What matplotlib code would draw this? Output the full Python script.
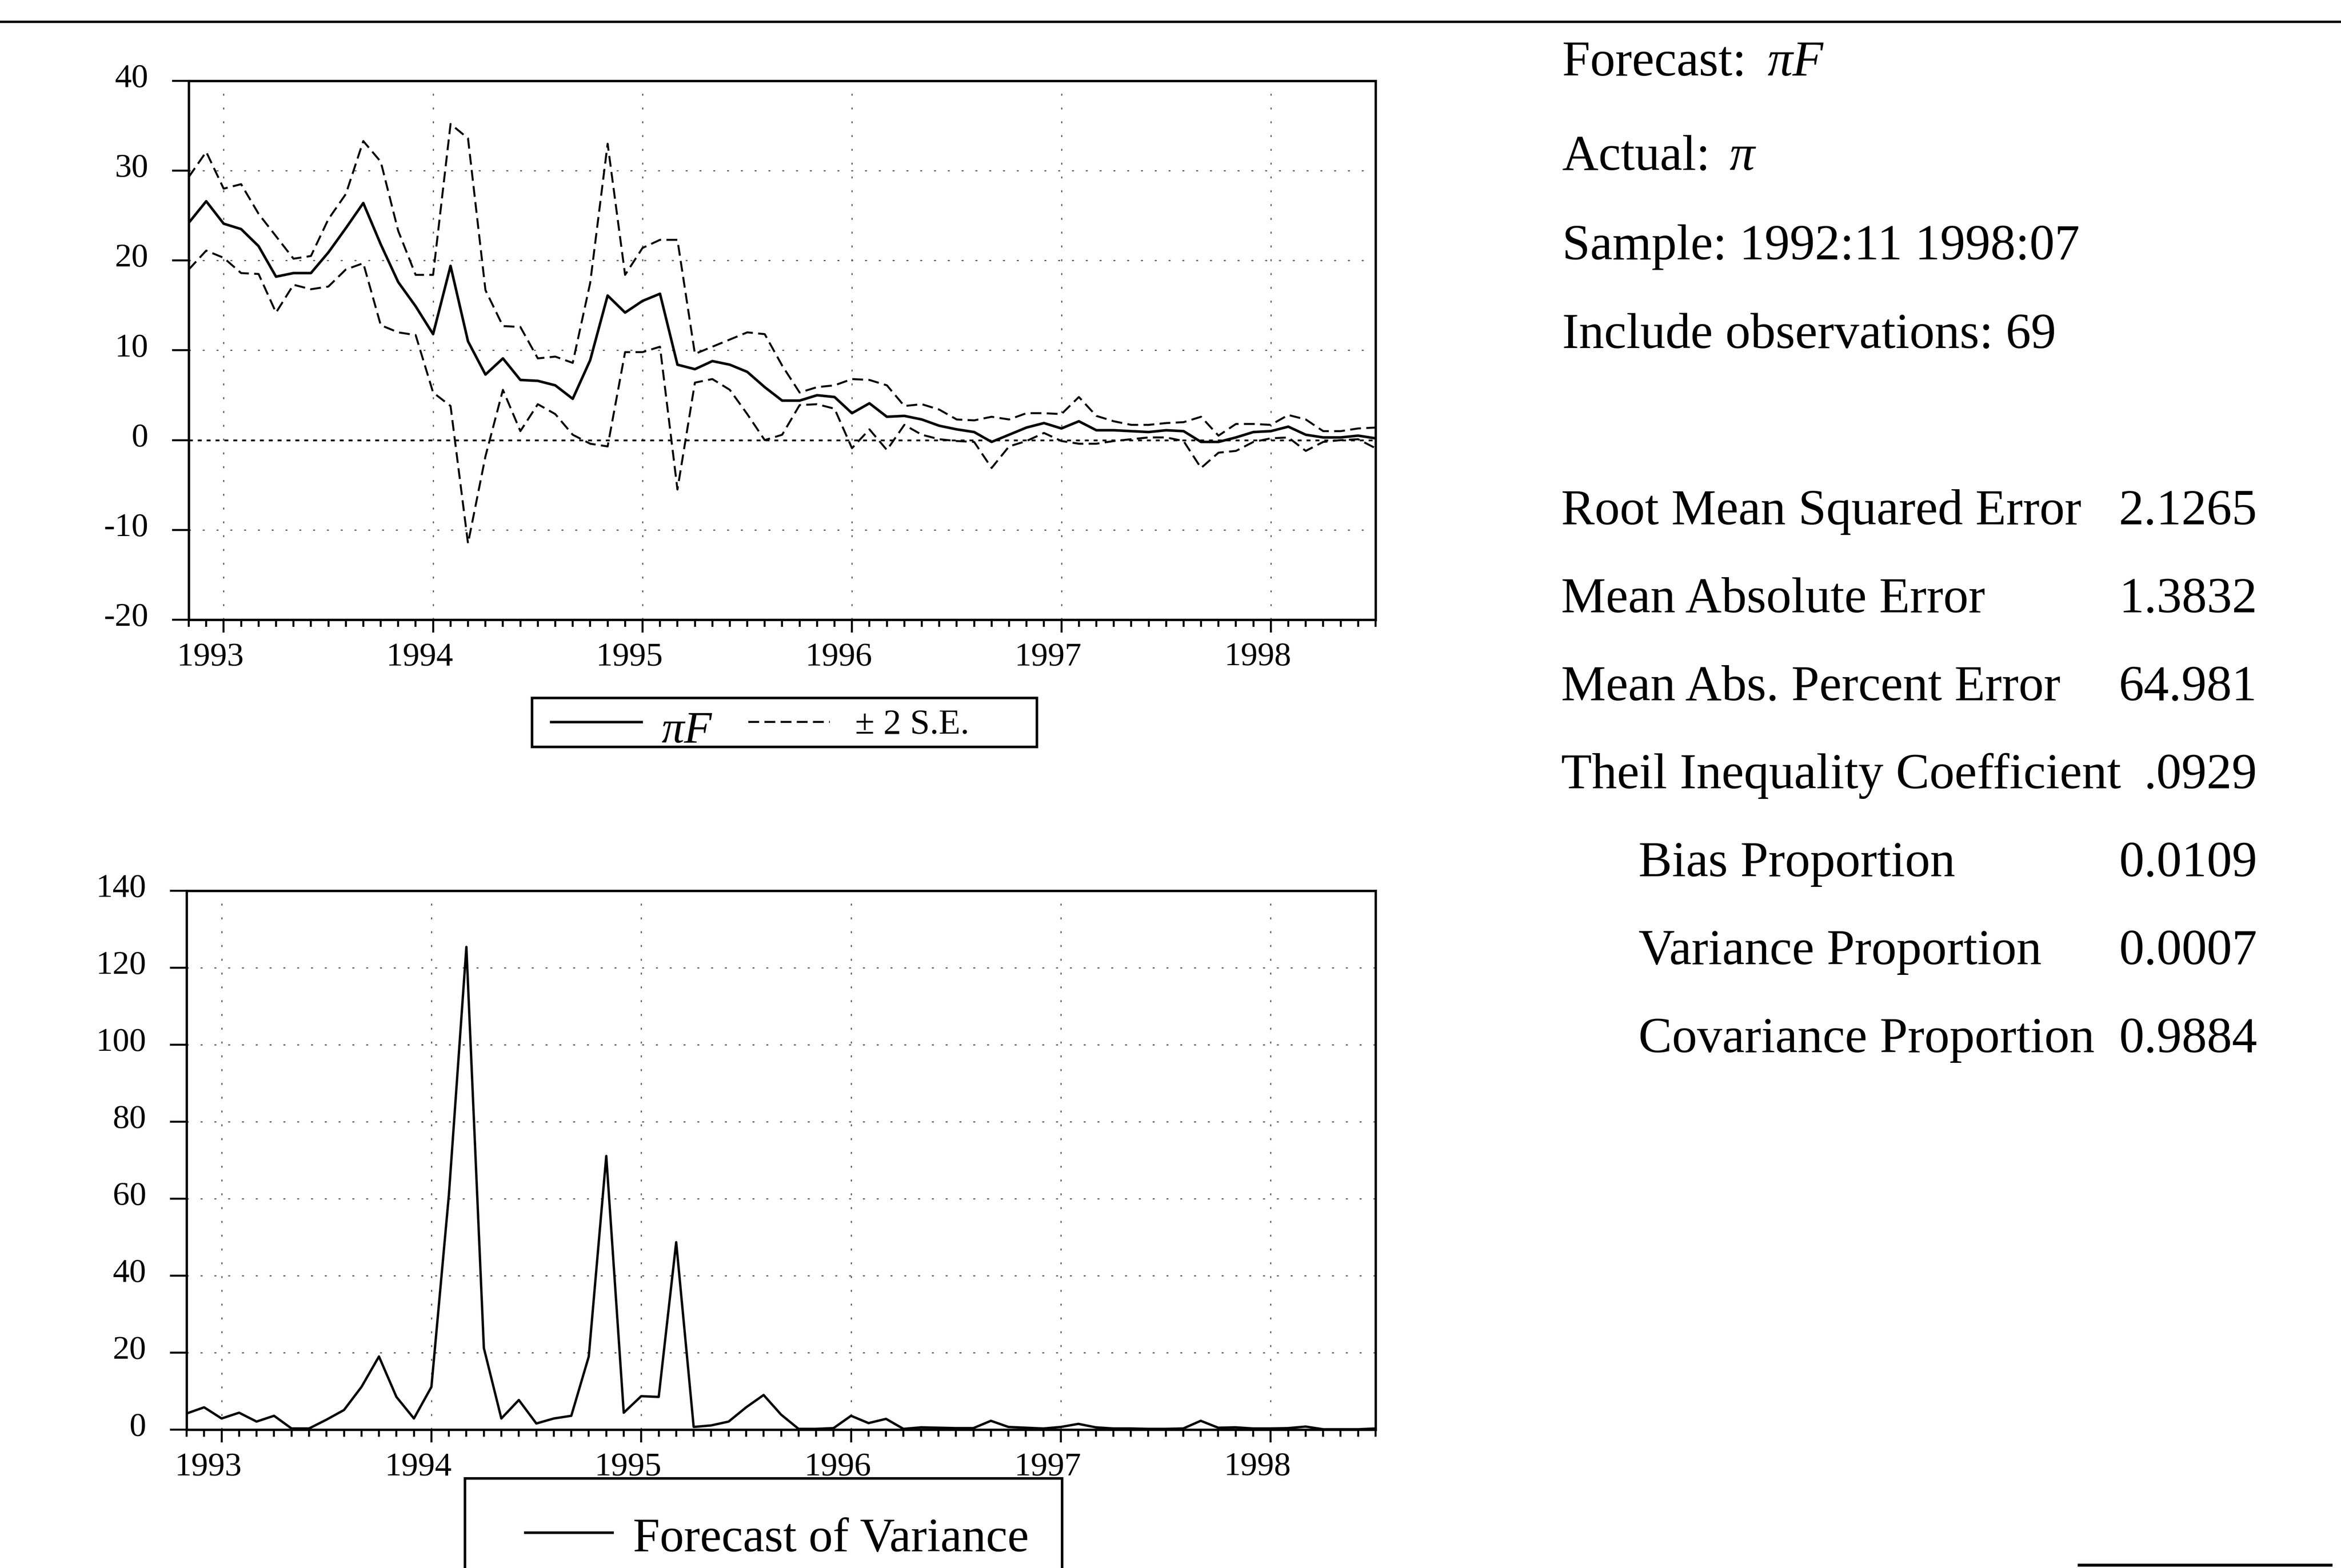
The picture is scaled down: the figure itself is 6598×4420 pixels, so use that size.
import numpy as np
import pandas as pd
import matplotlib
matplotlib.use('Agg')
import matplotlib.pyplot as plt
from matplotlib.lines import Line2D
from matplotlib.patches import Rectangle
from matplotlib.transforms import ScaledTranslation

plt.rcParams['font.family'] = ['Liberation Serif', 'DejaVu Serif']
plt.rcParams['axes.unicode_minus'] = False
plt.rcParams['lines.scale_dashes'] = False

# monthly sample 1992:11 - 1998:07
months = pd.period_range('1992-11', '1998-07', freq='M')

forecast = [24.2, 26.6, 24.1, 23.5, 21.6, 18.2, 18.6, 18.6, 20.9, 23.6,
            26.4, 21.8, 17.6, 14.9, 11.8, 19.4, 11.0, 7.3, 9.1, 6.7,
            6.6, 6.1, 4.6, 8.9, 16.1, 14.2, 15.5, 16.3, 8.4, 7.9,
            8.8, 8.4, 7.6, 5.9, 4.4, 4.4, 5.0, 4.8, 3.0, 4.1,
            2.6, 2.7, 2.3, 1.6, 1.2, 0.9, -0.2, 0.6, 1.4, 1.9,
            1.3, 2.1, 1.1, 1.1, 1.0, 0.9, 1.1, 1.0, -0.2, -0.2,
            0.3, 0.9, 1.0, 1.5, 0.6, 0.3, 0.3, 0.5, 0.2]

upper = [29.3, 32.1, 28.0, 28.5, 25.2, 22.7, 20.2, 20.5, 24.6, 27.4,
         33.3, 31.0, 23.3, 18.4, 18.4, 35.2, 33.6, 16.7, 12.7, 12.6,
         9.1, 9.3, 8.6, 17.5, 33.0, 18.4, 21.4, 22.3, 22.3, 9.6,
         10.4, 11.2, 12.0, 11.8, 8.3, 5.3, 5.9, 6.1, 6.8, 6.7,
         6.1, 3.8, 4.0, 3.4, 2.3, 2.2, 2.6, 2.3, 3.0, 3.0,
         2.9, 4.8, 2.7, 2.1, 1.7, 1.7, 1.9, 2.0, 2.6, 0.5,
         1.8, 1.8, 1.7, 2.8, 2.3, 1.0, 1.0, 1.3, 1.4]

lower = [19.0, 21.1, 20.3, 18.6, 18.5, 14.2, 17.3, 16.8, 17.1, 19.0,
         19.7, 12.8, 12.0, 11.7, 5.3, 3.8, -11.5, -1.8, 5.6, 1.0,
         4.0, 2.9, 0.6, -0.4, -0.7, 9.8, 9.8, 10.4, -5.5, 6.4,
         6.8, 5.6, 2.9, 0.0, 0.6, 3.9, 4.0, 3.5, -0.9, 1.2,
         -1.1, 1.7, 0.6, 0.1, -0.1, -0.2, -3.1, -0.7, -0.1, 0.8,
         -0.1, -0.4, -0.4, -0.1, 0.1, 0.3, 0.3, -0.1, -3.1, -1.4,
         -1.2, -0.2, 0.2, 0.3, -1.2, -0.2, 0.0, 0.1, -0.9]

variance = [4.2, 5.8, 2.9, 4.4, 2.1, 3.6, 0.3, 0.3, 2.6, 5.1,
            11.1, 19.0, 8.5, 2.9, 11.1, 61.0, 125.4, 21.2, 2.9, 7.7,
            1.6, 2.9, 3.6, 19.0, 71.1, 4.4, 8.7, 8.5, 48.7, 0.7,
            1.1, 2.1, 5.8, 9.0, 3.9, 0.2, 0.2, 0.4, 3.6, 1.7,
            2.8, 0.2, 0.6, 0.5, 0.4, 0.4, 2.3, 0.7, 0.5, 0.3,
            0.7, 1.5, 0.6, 0.3, 0.3, 0.2, 0.2, 0.3, 2.3, 0.5,
            0.6, 0.3, 0.3, 0.4, 0.8, 0.1, 0.1, 0.1, 0.3]

top_yticks = [-20, -10, 0, 10, 20, 30, 40]
bot_yticks = [0, 20, 40, 60, 80, 100, 120, 140]

info_lines = ['Sample: 1992:11 1998:07', 'Include observations: 69']
stat_names = ['Root Mean Squared Error', 'Mean Absolute Error',
              'Mean Abs. Percent Error', 'Theil Inequality Coefficient',
              'Bias Proportion', 'Variance Proportion', 'Covariance Proportion']
stat_values = ['2.1265', '1.3832', '64.981', '.0929', '0.0109', '0.0007', '0.9884']
stat_indent = [False, False, False, False, True, True, True]

x = np.arange(len(months))
year_pos = [i for i, m in enumerate(months) if m.month == 1]
year_labels = [str(months[i].year) for i in year_pos]

W, H, DPI = 6599, 4420, 400
fig = plt.figure(figsize=(W / DPI, H / DPI), dpi=DPI)


def fx(px):
    return px / W


def fy(py):
    return 1 - py / H


def style_axes(ax, yticks, grid_y):
    ax.set_xlim(0, len(months) - 1)
    ax.set_ylim(yticks[0], yticks[-1])
    ax.set_xticks(year_pos)
    ax.set_xticklabels(year_labels)
    ax.set_xticks(x, minor=True)
    ax.set_yticks(yticks)
    ax.tick_params(axis='x', which='major', direction='out', length=6.5, width=1.0,
                   pad=5.0, labelsize=17)
    ax.tick_params(axis='x', which='minor', direction='out', length=3.6, width=1.0)
    ax.tick_params(axis='y', direction='out', length=8.5, width=1.0, pad=12.0, labelsize=17)
    for s in ax.spines.values():
        s.set_linewidth(1.2)
    dx = ScaledTranslation(-37 / DPI, 0, fig.dpi_scale_trans)
    for lbl in ax.get_xticklabels():
        lbl.set_transform(lbl.get_transform() + dx)
    dy = ScaledTranslation(0, 15 / DPI, fig.dpi_scale_trans)
    for lbl in ax.get_yticklabels():
        lbl.set_transform(lbl.get_transform() + dy)
    for yv in grid_y:
        ax.axhline(yv, color='0.35', lw=0.6, linestyle=(0, (1, 6)), zorder=0)
    for xv in year_pos:
        ax.axvline(xv, color='0.35', lw=0.6, linestyle=(0, (1, 6)), zorder=0)


# top: forecast with +/- 2 S.E.
ax1 = fig.add_axes([fx(532), fy(1747), fx(3877) - fx(532), (1747 - 228) / H])
style_axes(ax1, top_yticks, [-10, 10, 20, 30])
ax1.axhline(0, color='black', lw=0.9, linestyle=(0, (2, 2.5)), zorder=1)
ax1.plot(x, upper, color='black', lw=1.0, linestyle=(0, (5.5, 2.7)))
ax1.plot(x, lower, color='black', lw=1.0, linestyle=(0, (5.5, 2.7)))
ax1.plot(x, forecast, color='black', lw=1.3)

# bottom: forecast of variance
ax2 = fig.add_axes([fx(526), fy(4030), fx(3877) - fx(526), (4030 - 2511) / H])
style_axes(ax2, bot_yticks, [20, 40, 60, 80, 100, 120])
ax2.plot(x, variance, color='black', lw=1.2)

tf = fig.transFigure

# rules
fig.add_artist(Line2D([0, 1], [fy(61), fy(61)], transform=tf, color='black', lw=1.2))
fig.add_artist(Line2D([fx(5860), fx(6570)], [fy(4412), fy(4412)], transform=tf,
                      color='black', lw=1.5))

# legend of top chart
fig.add_artist(Rectangle((fx(1499), fy(2105)), (2922 - 1499) / W, (2105 - 1967) / H,
                         transform=tf, fill=False, edgecolor='black', lw=1.3))
fig.add_artist(Line2D([fx(1553), fx(1808)], [fy(2035)] * 2, transform=tf, color='black', lw=1.3))
fig.text(fx(1864), fy(2093), 'πF', fontsize=23, style='italic', va='baseline')
fig.add_artist(Line2D([fx(2109), fx(2339)], [fy(2035)] * 2, transform=tf, color='black',
                      lw=1.0, linestyle=(0, (5.5, 2.7))))
fig.text(fx(2410), fy(2068), '± 2 S.E.', fontsize=18, va='baseline')

# legend of bottom chart (cut by the page edge)
fig.add_artist(Rectangle((fx(1310), fy(4600)), (2993 - 1310) / W, (4600 - 4167) / H,
                         transform=tf, fill=False, edgecolor='black', lw=1.3))
fig.add_artist(Line2D([fx(1480), fx(1726)], [fy(4320)] * 2, transform=tf, color='black', lw=1.3))
fig.text(fx(1784), fy(4373), 'Forecast of Variance', fontsize=24.5, va='baseline')

# forecast statistics
fs = 25.5
fig.text(fx(4403), fy(213), 'Forecast: ', fontsize=fs, va='baseline')
fig.text(fx(4981), fy(213), 'πF', fontsize=fs, style='italic', va='baseline')
fig.text(fx(4403), fy(479), 'Actual: ', fontsize=fs, va='baseline')
fig.text(fx(4874), fy(479), 'π', fontsize=fs, style='italic', va='baseline')
for i, line in enumerate(info_lines):
    fig.text(fx(4403), fy(731 + 250 * i), line, fontsize=fs, va='baseline')

for i, (name, val, ind) in enumerate(zip(stat_names, stat_values, stat_indent)):
    yb = fy(1478 + 248 * i)
    fig.text(fx(4618 if ind else 4400), yb, name, fontsize=fs, va='baseline')
    fig.text(fx(6362), yb, val, fontsize=fs, va='baseline', ha='right')

fig.savefig('out.png', dpi=DPI)
